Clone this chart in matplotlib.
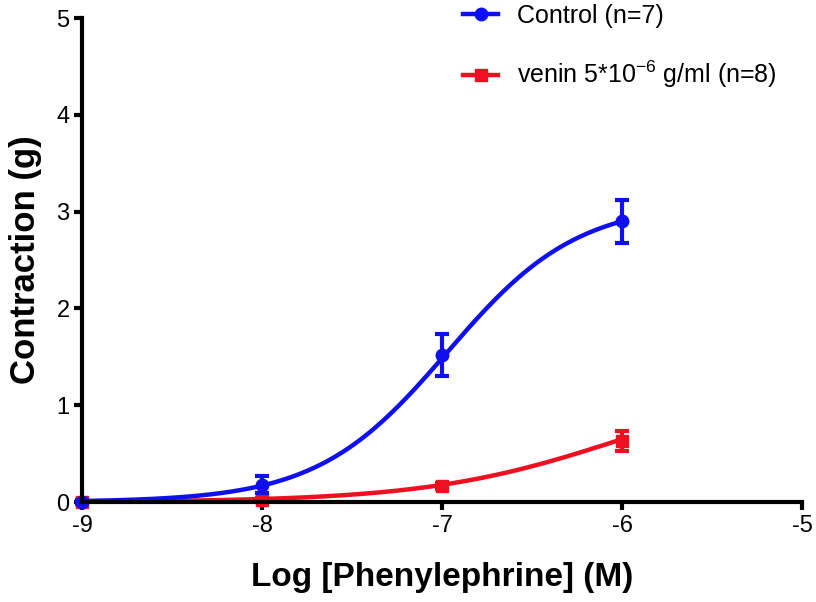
import numpy as np
import matplotlib
matplotlib.use("Agg")
import matplotlib.pyplot as plt

# data
log_conc = [-9, -8, -7, -6]
control_mean = [0.0, 0.18, 1.52, 2.90]
control_sem = [0.02, 0.09, 0.22, 0.22]
venin_mean = [0.0, 0.02, 0.17, 0.63]
venin_sem = [0.01, 0.02, 0.03, 0.10]

# sigmoid fit parameters (bottom, top, logEC50, hill)
control_fit = (0.0, 3.1, -6.97, 1.2)
venin_fit = (0.0, 1.3, -6.0, 0.8)

plt.rcParams['font.family'] = ['Liberation Sans', 'DejaVu Sans']
plt.rcParams['axes.unicode_minus'] = False

def hill_curve(x, p):
    bottom, top, ec50, h = p
    return bottom + (top - bottom) / (1 + 10 ** ((ec50 - x) * h))

fig = plt.figure(figsize=(8.16, 6.02), dpi=100)
ax = fig.add_axes([0.1005, 0.166, 0.8825, 0.804])

xs = np.linspace(log_conc[0], log_conc[-1], 200)
blue = '#1010ee'
red = '#ee1020'

ax.plot(xs, hill_curve(xs, venin_fit), color=red, lw=3.2, zorder=3)
ax.errorbar(log_conc, venin_mean, yerr=venin_sem, fmt='s', color=red, ms=9,
            elinewidth=3, capsize=5, capthick=3, zorder=4)
ax.plot(xs, hill_curve(xs, control_fit), color=blue, lw=3.2, zorder=5)
ax.errorbar(log_conc, control_mean, yerr=control_sem, fmt='o', color=blue, ms=9,
            elinewidth=3, capsize=5, capthick=3, zorder=6)

# legend handles
h1, = ax.plot([], [], color=blue, lw=3.2, marker='o', ms=9)
h2, = ax.plot([], [], color=red, lw=3.2, marker='s', ms=9)
fig.legend([h1, h2], ['Control (n=7)', 'venin 5*10$^{\\mathregular{-6}}$ g/ml (n=8)'],
           loc='upper left', bbox_to_anchor=(463 / 816, 0.994),
           bbox_transform=fig.transFigure, frameon=False, borderpad=0,
           borderaxespad=0, fontsize=18, handlelength=1.4, handletextpad=0.75,
           labelspacing=1.25)

ax.set_xlim(-9, -5)
ax.set_ylim(0, 5)
ax.set_xticks([-9, -8, -7, -6, -5])
ax.set_yticks([0, 1, 2, 3, 4, 5])
for s in ['top', 'right']:
    ax.spines[s].set_visible(False)
for s in ['left', 'bottom']:
    ax.spines[s].set_linewidth(3)
    ax.spines[s].set_color('black')
ax.tick_params(direction='out', length=6, width=3, labelsize=17, pad=3)

ax.set_xlabel('Log [Phenylephrine] (M)', fontsize=24, fontweight='bold', labelpad=18)
ax.set_ylabel('Contraction (g)', fontsize=25, fontweight='bold', labelpad=10)

for sp in ax.spines.values():
    sp.set_zorder(10)
for art in ax.get_children():
    try:
        art.set_clip_on(False)
    except Exception:
        pass

fig.savefig('out.png', dpi=100)
